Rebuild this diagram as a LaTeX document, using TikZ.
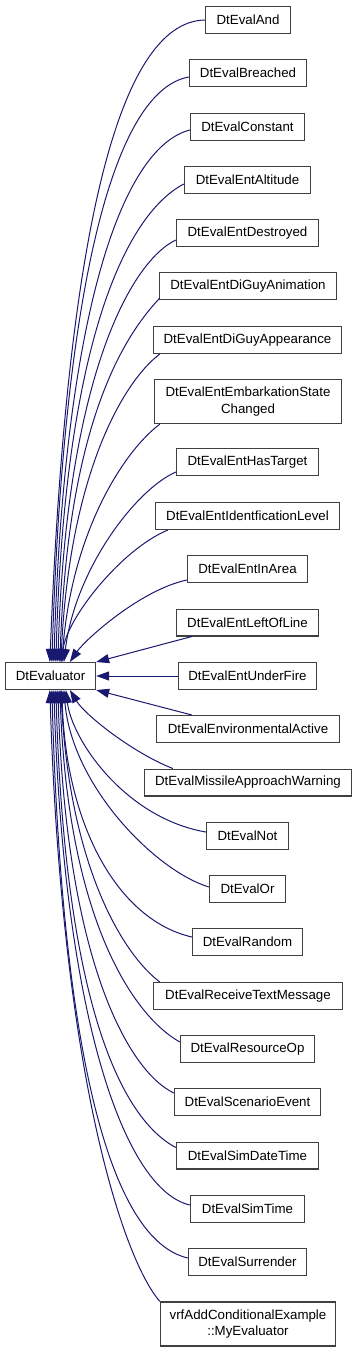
\documentclass[tikz,border=0pt]{standalone}
\usepackage{fontspec}
\setmainfont{Liberation Sans}
\usetikzlibrary{arrows.meta,calc}
\definecolor{edgeblue}{HTML}{191970}
\definecolor{boxline}{HTML}{404040}
\begin{document}
\begin{tikzpicture}[x=1pt,y=-1pt,
  box/.style={draw=boxline, line width=1.3pt, fill=white, inner sep=0pt,
    minimum height=26.7pt, align=center, font=\fontsize{13.3}{16.5}\selectfont},
  tall/.style={minimum height=44pt},
  edge/.style={draw=edgeblue, line width=1pt, -{Triangle[length=13pt,width=9pt]}}]
\useasboundingbox (0,0) rectangle (357,1352);
% nodes
\node[box, minimum width=90pt] (root) at (50.5,676) {DtEvaluator};
\node[box, minimum width=85pt] (n1) at (248,20) {DtEvalAnd};
\node[box, minimum width=117pt] (n2) at (248,73) {DtEvalBreached};
\node[box, minimum width=114pt] (n3) at (247.5,127) {DtEvalConstant};
\node[box, minimum width=126pt] (n4) at (247.5,180) {DtEvalEntAltitude};
\node[box, minimum width=142pt] (n5) at (247.5,233) {DtEvalEntDestroyed};
\node[box, minimum width=177pt] (n6) at (248,286) {DtEvalEntDiGuyAnimation};
\node[box, minimum width=188pt] (n7) at (247.5,340) {DtEvalEntDiGuyAppearance};
\node[box, tall, minimum width=187pt] (n8) at (248,401.5) {DtEvalEntEmbarkationState\\Changed};
\node[box, minimum width=142pt] (n9) at (247.5,462) {DtEvalEntHasTarget};
\node[box, minimum width=184pt] (n10) at (247.5,516) {DtEvalEntIdentficationLevel};
\node[box, minimum width=120pt] (n11) at (247.5,569) {DtEvalEntInArea};
\node[box, minimum width=142pt] (n12) at (247.5,622.5) {DtEvalEntLeftOfLine};
\node[box, minimum width=138pt] (n13) at (247.5,676) {DtEvalEntUnderFire};
\node[box, minimum width=183pt] (n14) at (248,729) {DtEvalEnvironmentalActive};
\node[box, minimum width=207pt] (n15) at (248,782.5) {DtEvalMissileApproachWarning};
\node[box, minimum width=82pt] (n16) at (247.5,836) {DtEvalNot};
\node[box, minimum width=76pt] (n17) at (247.5,889) {DtEvalOr};
\node[box, minimum width=110pt] (n18) at (247.5,942) {DtEvalRandom};
\node[box, minimum width=189pt] (n19) at (248,996) {DtEvalReceiveTextMessage};
\node[box, minimum width=134pt] (n20) at (247.5,1049) {DtEvalResourceOp};
\node[box, minimum width=146pt] (n21) at (247.5,1102) {DtEvalScenarioEvent};
\node[box, minimum width=142pt] (n22) at (247.5,1155.5) {DtEvalSimDateTime};
\node[box, minimum width=114pt] (n23) at (247.5,1209) {DtEvalSimTime};
\node[box, minimum width=118pt] (n24) at (247.5,1262) {DtEvalSurrender};
\node[box, tall, minimum width=175pt] (n25) at (248,1324) {vrfAddConditionalExample\\::MyEvaluator};
% top edges
\draw[edge] (n1.west) .. controls (115,22) and (66,250) .. ($(root.north west)+(45,0)$);
\draw[edge] ($(n2.west)+(0,4)$) .. controls (115,90) and (64,280) .. ($(root.north west)+(47,0)$);
\draw[edge] ($(n3.west)+(0,3)$) .. controls (120,148) and (64,320) .. ($(root.north west)+(49,0)$);
\draw[edge] ($(n4.west)+(0,4)$) .. controls (130,212) and (65,330) .. ($(root.north west)+(51,0)$);
\draw[edge] ($(n5.west)+(0,7)$) .. controls (130,262) and (66,380) .. ($(root.north west)+(53,0)$);
\draw[edge] ($(n6.west)+(1,12)$) .. controls (125,335) and (68,420) .. ($(root.north west)+(55,0)$);
\draw[edge] ($(n7.south west)+(7,0)$) .. controls (125,380) and (70,470) .. ($(root.north west)+(56,0)$);
\draw[edge] ($(n8.south west)+(6,0)$) .. controls (125,450) and (72,530) .. ($(root.north west)+(57,0)$);
\draw[edge] ($(n9.west)+(0,10)$) .. controls (135,490) and (75,570) .. ($(root.north west)+(59,0)$);
\draw[edge] ($(n10.south west)+(13,0)$) .. controls (120,550) and (66,620) .. ($(root.north west)+(57,0)$);
\draw[edge] ($(n11.west)+(0,11)$) .. controls (140,590) and (85,640) .. ($(root.north west)+(65,0)$);
\draw[edge] ($(n12.south west)+(16,0)$) -- (root.north east);
% middle
\draw[edge] (n13.west) -- (root.east);
% bottom edges
\draw[edge] ($(n14.north west)+(36,0)$) -- (root.south east);
\draw[edge] ($(n15.north west)+(29,0)$) .. controls (133,753) and (85,715) .. ($(root.south west)+(65,0)$);
\draw[edge] ($(n16.west)+(0,-4)$) .. controls (125,818) and (72,740) .. ($(root.south west)+(61,0)$);
\draw[edge] ($(n17.west)+(0,-2)$) .. controls (154,870) and (72,785) .. ($(root.south west)+(59,0)$);
\draw[edge] ($(n18.west)+(0,-5)$) .. controls (118,920) and (66,826) .. ($(root.south west)+(57,0)$);
\draw[edge] ($(n19.north west)+(7,0)$) .. controls (125,956) and (70,871) .. ($(root.south west)+(56,0)$);
\draw[edge] ($(n20.west)+(0,-7)$) .. controls (135,1017) and (68,923) .. ($(root.south west)+(55,0)$);
\draw[edge] ($(n21.west)+(0,-9)$) .. controls (128,1071) and (66,960) .. ($(root.south west)+(53,0)$);
\draw[edge] ($(n22.west)+(0,-8)$) .. controls (122,1119) and (65,1006) .. ($(root.south west)+(51,0)$);
\draw[edge] ($(n23.west)+(0,-4)$) .. controls (125,1190) and (64,1020) .. ($(root.south west)+(49,0)$);
\draw[edge] ($(n24.west)+(0,-4)$) .. controls (110,1240) and (62,1054) .. ($(root.south west)+(47,0)$);
\draw[edge] (n25.north west) .. controls (125,1262) and (62,1082) .. ($(root.south west)+(45,0)$);
\end{tikzpicture}
\end{document}
